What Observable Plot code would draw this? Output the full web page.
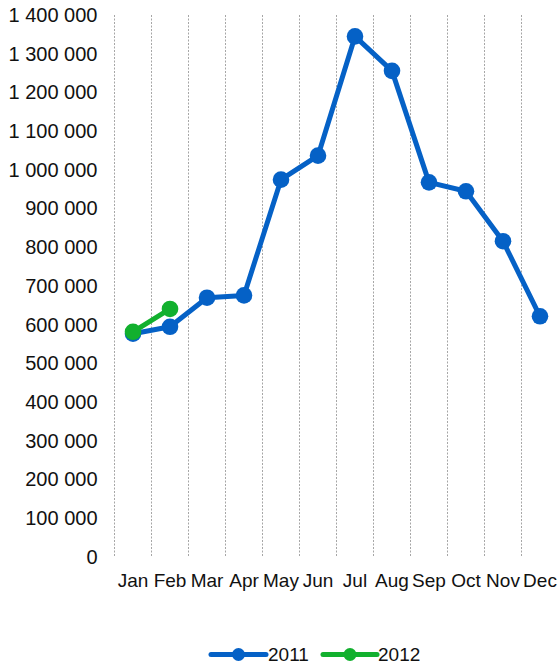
<!DOCTYPE html>
<html>
<head>
<meta charset="utf-8">
<script src="https://cdn.jsdelivr.net/npm/d3@7"></script>
<script src="https://cdn.jsdelivr.net/npm/@observablehq/plot@0.6"></script>
<style>
  html, body { margin: 0; padding: 0; background: #fff; }
  #chart { width: 558px; height: 665px; position: relative; font-family: "Liberation Sans", Arial, sans-serif; }
  #legend { position: absolute; left: 0; top: 600px; }
</style>
</head>
<body>
<div id="chart"></div>
<script>
const months = ["Jan","Feb","Mar","Apr","May","Jun","Jul","Aug","Sep","Oct","Nov","Dec"];
const values2011 = [578000, 596000, 671000, 677000, 976000, 1038000, 1346000, 1257000, 969000, 946000, 817000, 623000];
const values2012 = [583000, 642000];
const seriesNames = ["2011", "2012"];
const seriesColors = ["#0561c6", "#12b02e"];
const yTicks = [0,100000,200000,300000,400000,500000,600000,700000,800000,900000,1000000,1100000,1200000,1300000,1400000];

const rows = [];
values2011.forEach((v, i) => rows.push({series: seriesNames[0], i, month: months[i], value: v}));
values2012.forEach((v, i) => rows.push({series: seriesNames[1], i, month: months[i], value: v}));
const boundaries = d3.range(months.length + 1);
const fmt = v => d3.format(",")(v).replace(/,/g, " ");

const plot = Plot.plot({
  width: 558,
  height: 600,
  marginLeft: 114,
  marginRight: 0,
  marginTop: 15,
  marginBottom: 43,
  style: {fontFamily: "'Liberation Sans', Arial, sans-serif", fontSize: "19px", color: "#111", background: "#fff"},
  x: {type: "linear", domain: [0, months.length], axis: null},
  y: {domain: [0, 1400000], axis: null},
  color: {domain: seriesNames, range: seriesColors},
  marks: [
    Plot.ruleX(boundaries, {x: d => d, stroke: "#a6a6a6", strokeWidth: 1, strokeDasharray: "2,1.5"}),
    Plot.axisY({ticks: yTicks, tickFormat: fmt, tickSize: 0, tickPadding: 17, fontSize: 20, fill: "#111", label: null}),
    Plot.axisX({ticks: months.map((m, i) => i + 0.5), tickFormat: d => months[Math.floor(d)], tickSize: 0, tickPadding: 16, fontSize: 19, fill: "#111", label: null}),
    Plot.line(rows, {x: d => d.i + 0.5, y: "value", z: "series", stroke: "series", strokeWidth: 5, strokeLinejoin: "round"}),
    Plot.dot(rows, {x: d => d.i + 0.5, y: "value", fill: "series", r: 8.3, stroke: null})
  ]
});
document.getElementById("chart").appendChild(plot);

// Legend below the chart
const lg = d3.select("#chart").append("svg").attr("id", "legend").attr("width", 558).attr("height", 65);
const items = [
  {name: seriesNames[0], color: seriesColors[0], x0: 211, x1: 266, cx: 238.5, tx: 268},
  {name: seriesNames[1], color: seriesColors[1], x0: 323, x1: 377, cx: 350, tx: 378}
];
items.forEach(it => {
  lg.append("line").attr("x1", it.x0).attr("x2", it.x1).attr("y1", 54.5).attr("y2", 54.5)
    .attr("stroke", it.color).attr("stroke-width", 5).attr("stroke-linecap", "round");
  lg.append("circle").attr("cx", it.cx).attr("cy", 54.5).attr("r", 6.5).attr("fill", it.color);
  lg.append("text").attr("x", it.tx).attr("y", 61).attr("font-size", 19)
    .attr("font-family", "'Liberation Sans', Arial, sans-serif").attr("fill", "#111").text(it.name);
});
</script>
</body>
</html>
